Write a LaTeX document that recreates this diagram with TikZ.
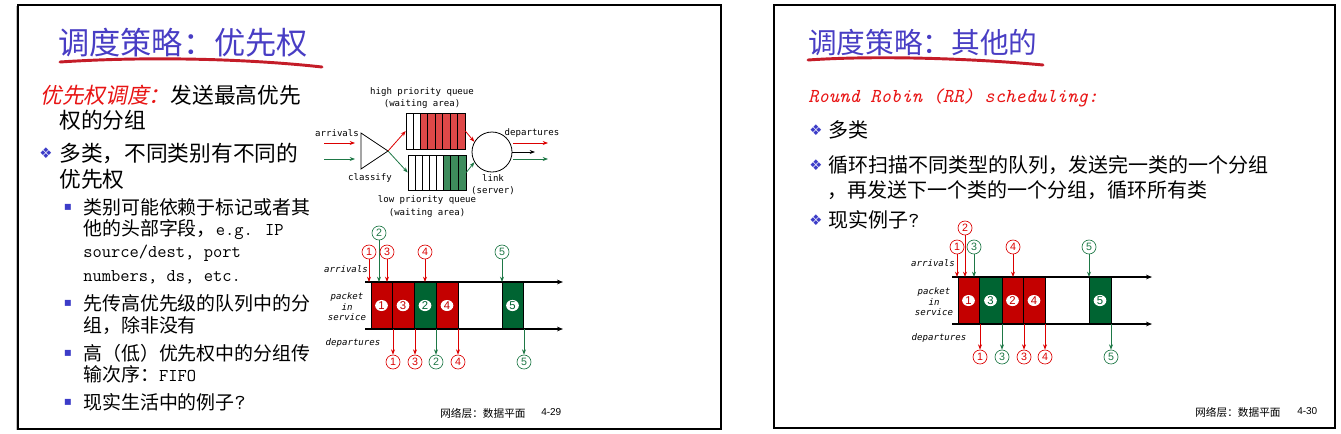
\documentclass[tikz,border=0pt]{standalone}
\usepackage{fontspec}
\usetikzlibrary{arrows.meta,shapes.geometric}
\newfontfamily\cjk{Noto Sans CJK SC}
\newfontfamily\cjkit[FakeSlant=0.2]{Noto Sans CJK SC}
\newfontfamily\dmono{DejaVu Sans Mono}
\newfontfamily\lsans{Liberation Sans}
\newfontfamily\dsym{DejaVu Sans}
\definecolor{titleblue}{RGB}{72,61,196}
\definecolor{ulred}{RGB}{196,28,40}
\definecolor{txtred}{RGB}{232,20,20}
\definecolor{pred}{RGB}{196,0,0}
\definecolor{pgreen}{RGB}{0,100,50}
\definecolor{qred}{RGB}{222,72,72}
\definecolor{qgreen}{RGB}{62,140,92}
\definecolor{ared}{RGB}{220,0,0}
\definecolor{agreen}{RGB}{30,120,70}
\definecolor{bulletblue}{RGB}{60,60,200}
\tikzset{
  txt/.style={inner sep=0, anchor=west},
  ttl/.style={txt, text=titleblue},
  lbody/.style={txt, font=\cjk\fontsize{16.3}{17}\selectfont},
  lsub/.style={txt, font=\cjk\fontsize{14.2}{15}\selectfont},
  rbody/.style={txt, font=\cjk\fontsize{15}{16}\selectfont},
  dia/.style={inner sep=0, text=bulletblue, font=\dsym\fontsize{11}{11}\selectfont},
  sq/.style={inner sep=0, text=bulletblue, font=\dsym\fontsize{9}{9}\selectfont},
  qlbl/.style={inner sep=0, font=\dmono\fontsize{6.8}{7}\selectfont},
  tlbl/.style={inner sep=0, font=\dmono\itshape\fontsize{6.8}{7}\selectfont},
  cnum/.style={circle, draw, line width=0.5pt, inner sep=0, minimum size=10.5pt, fill=white, font=\lsans\fontsize{8}{8}\selectfont},
  pnum/.style={ellipse, fill=white, inner sep=0, minimum width=9.5pt, minimum height=8pt, font=\lsans\fontsize{8.5}{9}\selectfont},
  arr/.style={-{Stealth[length=4pt,width=3pt]}, line width=0.6pt},
  tline/.style={-{Stealth[length=4.5pt,width=3.5pt]}, line width=0.9pt},
  pkt/.style={draw=black, line width=0.6pt},
  foot/.style={txt, font=\cjk\fontsize{8}{8}\selectfont},
  pg/.style={txt, font=\lsans\fontsize{7.5}{8}\selectfont},
  frame/.style={draw=black, line width=1.6pt},
  uline/.style={draw=ulred, line width=2.2pt, line cap=round}
}
\newcommand\tta[1]{{\ttfamily\fontsize{13.5}{14}\selectfont #1}}
\newcommand\ttq[1]{{\ttfamily\fontsize{16}{16}\selectfont #1}}
\begin{document}
\begin{tikzpicture}[x=0.75pt,y=-0.75pt]
\useasboundingbox (0,0) rectangle (1341,433);
\fill[white] (0,0) rectangle (1341,433);
% frames
\draw[gray!50, line width=1pt] (16.5,6) -- (16.5,430);
\draw[frame] (18,5) rectangle (721,429);
\draw[frame] (774,5) rectangle (1335,428);

% ===== LEFT SLIDE =====
\node[ttl, font=\cjk\fontsize{23.4}{24}\selectfont] (L-title) at (58,43) {调度策略：优先权};
\draw[uline] (60,62) .. controls (150,56) and (250,59) .. (322,67);
\node[lbody] (L-l1) at (40,95) {{\cjkit\color{txtred}优先权调度：}发送最高优先};
\node[lbody] (L-l2) at (59,120) {权的分组};
\node[dia] (L-b1) at (46,153) {❖};
\node[lbody] (L-l3) at (59,153) {多类，不同类别有不同的};
\node[lbody] (L-l4) at (59,179) {优先权};
\node[sq] (L-s1) at (68,207) {▪};
\node[lsub] (L-m1) at (83,207) {类别可能依赖于标记或者其};
\node[lsub] (L-m2) at (83,230) {他的头部字段，\tta{e.g. IP}};
\node[lsub] (L-m3) at (83,253) {\tta{source/dest, port}};
\node[lsub] (L-m4) at (83,277) {\tta{numbers, ds, etc.}};
\node[sq] (L-s2) at (68,303) {▪};
\node[lsub] (L-m5) at (83,303) {先传高优先级的队列中的分};
\node[lsub] (L-m6) at (83,325) {组，除非没有};
\node[sq] (L-s3) at (68,353) {▪};
\node[lsub] (L-m7) at (83,353) {高（低）优先权中的分组传};
\node[lsub] (L-m8) at (83,374) {输次序：\tta{FIFO}};
\node[sq] (L-s4) at (68,402) {▪};
\node[lsub] (L-m9) at (83,402) {现实生活中的例子\ttq{?}};
\node[foot] (L-foot) at (440,413) {网络层：数据平面};
\node[pg] (L-pg) at (541,412) {4-29};

% queue diagram
\node[inner sep=0, minimum width=44.25pt, minimum height=27pt] (hq) at (435.5,131) {};
\fill[qred] (420,113) rectangle (465,149);
\draw[line width=0.6pt] (406,113) rectangle (465,149);
\foreach \x in {413,420,427.5,435,442.5,450,457.5} \draw[line width=0.5pt] (\x,113) -- (\x,149);
\node[inner sep=0, minimum width=43.5pt, minimum height=26.25pt] (lq) at (437,172.5) {};
\fill[qgreen] (443,155) rectangle (466,190);
\draw[line width=0.6pt] (408,155) rectangle (466,190);
\foreach \x in {415,422,429,436,443,450.7,458.3} \draw[line width=0.5pt] (\x,155) -- (\x,190);
\coordinate (cl-a) at (361,133);
\coordinate (cl-b) at (361,169);
\coordinate (cl-c) at (388,151);
\draw[line width=0.6pt] (cl-a) -- (cl-c) -- (cl-b) -- cycle;
\draw[arr, color=ared] (cl-c) -- (hq.west);
\draw[arr, color=agreen] (cl-c) -- (lq.west);
\node[circle, draw, line width=0.6pt, minimum size=30pt, inner sep=0] (srv) at (492,152) {};
\draw[arr, color=ared] (hq.east) -- (srv.150);
\draw[arr, color=agreen] (lq.east) -- (srv.210);
\coordinate (srv-out) at (535,152);
\draw[arr] (srv.east) -- (srv-out);
\coordinate (in-r1) at (324,143); \coordinate (in-r2) at (355,143);
\coordinate (in-g1) at (324,159); \coordinate (in-g2) at (355,159);
\draw[arr, color=ared] (in-r1) -- (in-r2);
\draw[arr, color=agreen] (in-g1) -- (in-g2);
\coordinate (out-r1) at (513,143); \coordinate (out-r2) at (548,143);
\coordinate (out-g1) at (513,159); \coordinate (out-g2) at (548,159);
\draw[arr, color=ared] (out-r1) -- (out-r2);
\draw[arr, color=agreen] (out-g1) -- (out-g2);
\node[qlbl] (q-h1) at (422,92) {high priority queue};
\node[qlbl] (q-h2) at (422,104) {(waiting area)};
\node[qlbl] (q-arr) at (337,133) {arrivals};
\node[qlbl] (q-dep) at (532,133) {departures};
\node[qlbl] (q-cls) at (370,178) {classify};
\node[qlbl] (q-lk1) at (493,178) {link};
\node[qlbl] (q-lk2) at (493,191) {(server)};
\node[qlbl] (q-l1) at (427,200) {low priority queue};
\node[qlbl] (q-l2) at (427,213) {(waiting area)};

% left timeline
\coordinate (L-ts) at (365,282); \coordinate (L-te) at (563,282);
\coordinate (L-bs) at (365,329); \coordinate (L-be) at (563,329);
\draw[pkt] (458,282) rectangle (502,329);
\foreach \a/\b/\c/\n/\k in {371/392/pred/1/1, 392/414/pred/3/2, 414/436/pgreen/2/3, 436/458/pred/4/4, 502/523/pgreen/5/5} {
  \draw[pkt, fill=\c] (\a,282) rectangle (\b,329);
  \node[pnum, text=\c] (L-p\k) at ({(\a+\b)/2},305.5) {\n};
}
\draw[tline] (L-ts) -- (L-te);
\draw[tline] (L-bs) -- (L-be);
\node[tlbl] (L-tarr) at (346,269) {arrivals};
\node[tlbl] (L-tpk1) at (347,297) {packet};
\node[tlbl] (L-tpk2) at (347,307) {in};
\node[tlbl] (L-tpk3) at (347,317) {service};
\node[tlbl] (L-tdep) at (353,343) {departures};
\foreach \x/\y/\c/\n/\k in {369/252/ared/1/1, 379/233/agreen/2/2, 387/252/ared/3/3, 425/252/ared/4/4, 502/252/agreen/5/5} {
  \node[cnum, draw=\c, text=\c] (L-a\k) at (\x,\y) {\n};
  \draw[arr, color=\c] (L-a\k.south) -- (L-a\k.south |- L-ts);
}
\foreach \x/\c/\n/\k in {393/ared/1/1, 415/ared/3/2, 436/agreen/2/3, 458/ared/4/4, 524/agreen/5/5} {
  \node[cnum, draw=\c, text=\c] (L-d\k) at (\x,362) {\n};
  \draw[arr, color=\c] (L-d\k.north |- L-bs) -- (L-d\k.north);
}

% ===== RIGHT SLIDE =====
\node[ttl, font=\cjk\fontsize{21.5}{22}\selectfont] (R-title) at (808,43) {调度策略：其他的};
\draw[uline] (808,60) .. controls (880,55) and (980,59) .. (1043,65);
\node[txt, text=txtred, font=\ttfamily\itshape\fontsize{14.8}{15}\selectfont] (R-rr) at (808,98) {Round Robin (RR) scheduling:};
\node[dia] (R-b1) at (816,130) {❖};
\node[rbody] (R-l1) at (828,130) {多类};
\node[dia] (R-b2) at (816,165) {❖};
\node[rbody] (R-l2) at (828,165) {循环扫描不同类型的队列，发送完一类的一个分组};
\node[rbody] (R-l3) at (827,190) {，再发送下一个类的一个分组，循环所有类};
\node[dia] (R-b3) at (816,220) {❖};
\node[rbody] (R-l4) at (828,220) {现实例子\ttq{?}};
\node[foot] (R-foot) at (1195,412) {网络层：数据平面};
\node[pg] (R-pg) at (1297,411) {4-30};

% right timeline
\coordinate (R-ts) at (952,277); \coordinate (R-te) at (1152,277);
\coordinate (R-bs) at (952,324); \coordinate (R-be) at (1152,324);
\draw[pkt] (1045,277) rectangle (1089,324);
\foreach \a/\b/\c/\n/\k in {958/979/pred/1/1, 979/1002/pgreen/3/2, 1002/1023/pred/2/3, 1023/1045/pred/4/4, 1089/1111/pgreen/5/5} {
  \draw[pkt, fill=\c] (\a,277) rectangle (\b,324);
  \node[pnum, text=\c] (R-p\k) at ({(\a+\b)/2},300.5) {\n};
}
\draw[tline] (R-ts) -- (R-te);
\draw[tline] (R-bs) -- (R-be);
\node[tlbl] (R-tarr) at (933,263) {arrivals};
\node[tlbl] (R-tpk1) at (934,292) {packet};
\node[tlbl] (R-tpk2) at (934,302) {in};
\node[tlbl] (R-tpk3) at (934,312) {service};
\node[tlbl] (R-tdep) at (939,338) {departures};
\foreach \x/\y/\c/\n/\k in {957/247/ared/1/1, 965/228/ared/2/2, 974/247/agreen/3/3, 1013/247/ared/4/4, 1089/247/agreen/5/5} {
  \node[cnum, draw=\c, text=\c] (R-a\k) at (\x,\y) {\n};
  \draw[arr, color=\c] (R-a\k.south) -- (R-a\k.south |- R-ts);
}
\foreach \x/\c/\n/\k in {980/ared/1/1, 1002/agreen/3/2, 1024/ared/3/3, 1045/ared/4/4, 1111/agreen/5/5} {
  \node[cnum, draw=\c, text=\c] (R-d\k) at (\x,357) {\n};
  \draw[arr, color=\c] (R-d\k.north |- R-bs) -- (R-d\k.north);
}
\end{tikzpicture}
\end{document}
